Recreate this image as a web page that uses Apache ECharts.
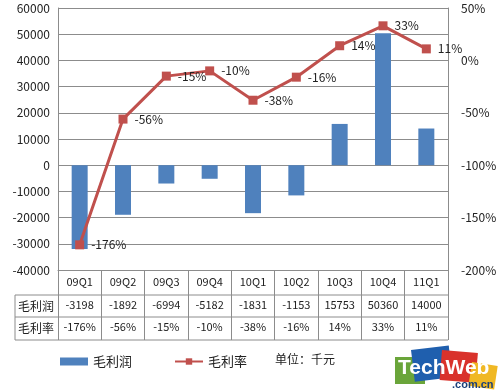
<!DOCTYPE html>
<html><head><meta charset="utf-8">
<script src="https://cdn.jsdelivr.net/npm/echarts@6/dist/echarts.min.js"></script>
<style>html,body{margin:0;padding:0;background:#fff}#c{width:500px;height:392px}</style>
</head><body><div id="c"></div>
<script>
var categories = ['09Q1','09Q2','09Q3','09Q4','10Q1','10Q2','10Q3','10Q4','11Q1'];
var profitValues = [-31980,-18920,-6994,-5182,-18310,-11530,15753,50360,14000];
var rateValues = [-176,-56,-15,-10,-38,-16,14,33,11];
var profitTableLabels = ['-3198','-1892','-6994','-5182','-1831','-1153','15753','50360','14000'];
var rateTableLabels = ['-176%','-56%','-15%','-10%','-38%','-16%','14%','33%','11%'];
var leftTicks = {min:-40000,max:60000,interval:10000};
var rightTicks = {min:-200,max:50,interval:50};

var FONT = '"Noto Sans CJK SC", "Noto Sans", sans-serif';
var G = {left:58, right:52, top:8, bottom:122};
var W = 500, H = 392;
var gx0 = G.left, gx1 = W - G.right, gyB = H - G.bottom;
var lineC = '#8c8c8c';
var chart = echarts.init(document.getElementById('c'));
function hline(y,x0,x1){return {type:'line',shape:{x1:x0,y1:y,x2:x1,y2:y},style:{stroke:lineC,lineWidth:1}};}
function vline(x,y0,y1){return {type:'line',shape:{x1:x,y1:y0,x2:x,y2:y1},style:{stroke:lineC,lineWidth:1}};}
var r1 = 295, r2 = 317, r3 = 340;
chart.setOption({
  animation:false,
  textStyle:{fontFamily:FONT},
  grid:{left:G.left,right:G.right,top:G.top,bottom:G.bottom},
  legend:{left:55, top:350, itemWidth:28, itemHeight:8, itemGap:42,
    textStyle:{fontSize:13,color:'#222',fontFamily:FONT},
    data:[{name:'毛利润',icon:'rect'},{name:'毛利率'}]},
  xAxis:[
    {type:'category',data:categories,position:'bottom',
     axisLine:{onZero:false,lineStyle:{color:lineC}},
     axisTick:{show:true,length:r3-gyB,lineStyle:{color:lineC}},
     axisLabel:{margin:6,fontSize:11,color:'#222',interval:0}},
    {type:'category',data:profitTableLabels,position:'bottom',gridIndex:0,
     axisLine:{show:false},axisTick:{show:false},
     axisLabel:{margin:29,fontSize:11,color:'#222',interval:0}},
    {type:'category',data:rateTableLabels,position:'bottom',gridIndex:0,
     axisLine:{show:false},axisTick:{show:false},
     axisLabel:{margin:51,fontSize:11,color:'#222',interval:0}}
  ],
  yAxis:[
    {type:'value',min:leftTicks.min,max:leftTicks.max,interval:leftTicks.interval,
     axisLine:{show:true,lineStyle:{color:lineC}},axisTick:{show:false},
     axisLabel:{margin:8,fontSize:12,color:'#222',formatter:function(v){return String(v);}},
     splitLine:{lineStyle:{color:lineC}}},
    {type:'value',min:rightTicks.min,max:rightTicks.max,interval:rightTicks.interval,
     axisLine:{show:true,lineStyle:{color:lineC}},axisTick:{show:false},
     axisLabel:{margin:13,fontSize:12,color:'#222',formatter:'{value}%'},
     splitLine:{show:false}}
  ],
  series:[
    {name:'毛利润',type:'bar',data:profitValues,barWidth:16,itemStyle:{color:'#4f81bd'},xAxisIndex:0,yAxisIndex:0},
    {name:'毛利率',type:'line',data:rateValues,xAxisIndex:0,yAxisIndex:1,
     symbol:'rect',symbolSize:9,itemStyle:{color:'#c0504d'},
     lineStyle:{color:'#c0504d',width:3},
     label:{show:true,position:'right',distance:7,formatter:'{c}%',fontSize:12,color:'#222'}}
  ],
  graphic:[
    hline(r1,15,gx1), hline(r2,15,gx1), hline(r3,15,gx1),
    vline(15,r1,r3),
    {type:'text',x:36,y:(r1+r2)/2,style:{text:'毛利润',fontSize:12,fill:'#222',align:'center',verticalAlign:'middle',fontFamily:FONT}},
    {type:'text',x:36,y:(r2+r3)/2,style:{text:'毛利率',fontSize:12,fill:'#222',align:'center',verticalAlign:'middle',fontFamily:FONT}},
    {type:'text',x:275,y:359,style:{text:'单位：千元',fontSize:12,fill:'#222',verticalAlign:'middle',fontFamily:FONT}},
    {type:'group',x:0,y:0,children:[
      {type:'rect',shape:{x:395,y:357,width:30,height:27},style:{fill:'#6aa53a'}},
      {type:'rect',shape:{x:0,y:0,width:38,height:32},x:411,y:350,rotation:0.12,style:{fill:'#1f5fae'}},
      {type:'rect',shape:{x:0,y:0,width:36,height:30},x:442,y:350,rotation:-0.08,style:{fill:'#d9322b'}},
      {type:'rect',shape:{x:0,y:0,width:26,height:24},x:472,y:362,rotation:-0.15,style:{fill:'#f0b824'}},
      {type:'text',x:398,y:368,style:{text:'TechWeb',fontSize:21,fontWeight:'bold',fill:'#fff',verticalAlign:'middle',fontFamily:'"Liberation Sans", Arial, sans-serif'}},
      {type:'text',x:452,y:385,style:{text:'.com.cn',fontSize:11,fontWeight:'bold',fill:'#1a3f7a',verticalAlign:'middle',fontFamily:'"Liberation Sans", Arial, sans-serif'}}
    ]}
  ]
});
</script></body></html>
